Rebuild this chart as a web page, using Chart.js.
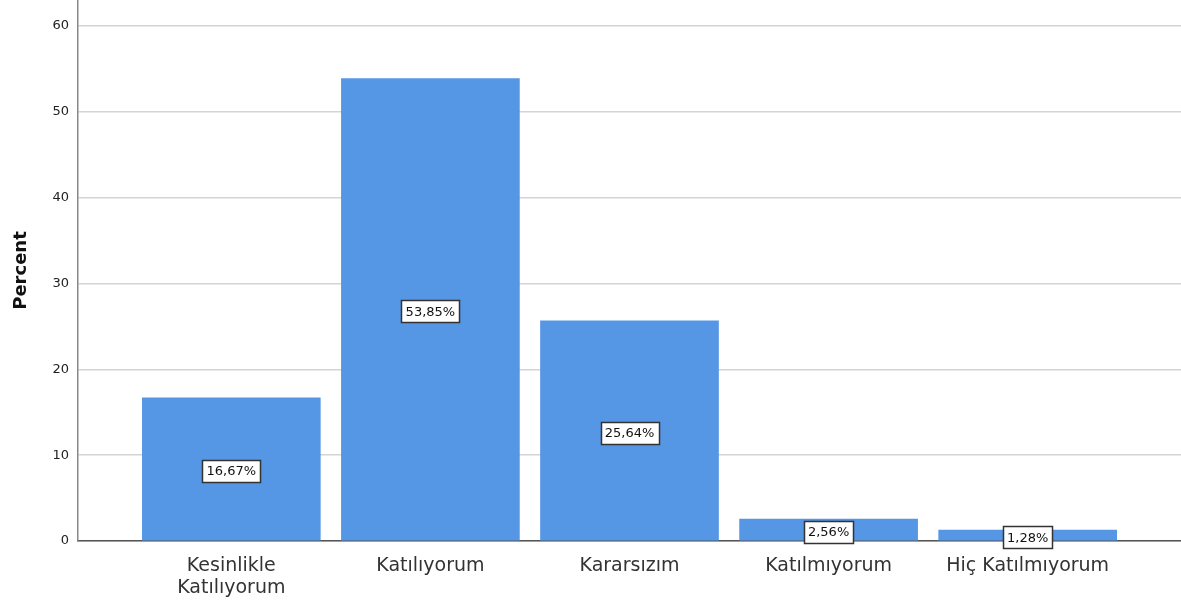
<!DOCTYPE html>
<html>
<head>
<meta charset="utf-8">
<script src="https://cdn.jsdelivr.net/npm/chart.js@4"></script>
<style>
  html, body { margin: 0; padding: 0; background: #fff; }
  #wrap { width: 1181px; height: 602px; }
</style>
</head>
<body>
<div id="wrap"><canvas id="myChart" width="1181" height="602"></canvas></div>
<script>
var categories = [['Kesinlikle', 'Katılıyorum'], 'Katılıyorum', 'Kararsızım', 'Katılmıyorum', 'Hiç Katılmıyorum'];
var percents = [16.67, 53.85, 25.64, 2.56, 1.28];
var yTicks = [0, 10, 20, 30, 40, 50, 60];

var fontFam = '"DejaVu Sans", Arial, sans-serif';

// white boxed value labels in the middle of each bar
var boxLabels = {
    id: 'boxLabels',
    afterDatasetsDraw: function (chart) {
        var ctx = chart.ctx;
        var meta = chart.getDatasetMeta(0);
        ctx.save();
        ctx.font = '13px ' + fontFam;
        ctx.textAlign = 'center';
        ctx.textBaseline = 'middle';
        meta.data.forEach(function (bar, i) {
            var txt = percents[i].toFixed(2).replace('.', ',') + '%';
            var cy = (bar.y + bar.base) / 2 + 2;
            var w = Math.round(ctx.measureText(txt).width + 8);
            var h = 22;
            var x0 = Math.round(bar.x - w / 2) + 0.5;
            var y0 = Math.round(cy - h / 2) + 0.5;
            ctx.fillStyle = '#ffffff';
            ctx.fillRect(x0, y0, w, h);
            ctx.strokeStyle = '#333333';
            ctx.lineWidth = 1.5;
            ctx.strokeRect(x0, y0, w, h);
            ctx.fillStyle = '#111111';
            ctx.fillText(txt, bar.x, cy + 1);
        });
        ctx.restore();
    }
};

var chart1 = document.getElementById('myChart');
var myChart = new Chart(chart1, {
    type: 'bar',
    data: {
        datasets: [{
            label: 'Percent',
            data: percents.map(function (v, i) { return { x: i, y: v }; }),
            backgroundColor: '#5596e5',
            borderWidth: 0,
            barThickness: 178
        }]
    },
    plugins: [boxLabels],
    options: {
        responsive: false,
        animation: false,
        layout: { padding: 0 },
        plugins: {
            legend: { display: false },
            tooltip: { enabled: false }
        },
        scales: {
            x: {
                type: 'linear',
                offset: false,
                min: -0.77,
                max: 4.77,
                afterBuildTicks: function (scale) {
                    scale.ticks = categories.map(function (c, i) { return { value: i }; });
                },
                afterFit: function (scale) {
                    scale.height = 61;
                    scale.paddingLeft = 0;
                    scale.paddingRight = 0;
                },
                grid: { display: false, drawTicks: false },
                border: { color: '#555555', width: 1.5 },
                ticks: {
                    padding: 14,
                    maxRotation: 0,
                    autoSkip: false,
                    color: '#333333',
                    font: { family: fontFam, size: 19, lineHeight: 1.15 },
                    callback: function (v) { return categories[v]; }
                }
            },
            y: {
                min: 0,
                max: 63,
                afterBuildTicks: function (scale) {
                    scale.ticks = yTicks.map(function (v) { return { value: v }; });
                },
                afterFit: function (scale) {
                    scale.width = 78;
                    scale.paddingTop = 0;
                    scale.paddingBottom = 0;
                },
                grid: { color: '#d4d4d4', lineWidth: 1.5, drawTicks: false },
                border: { color: '#888888', width: 1.5 },
                ticks: {
                    padding: 9,
                    color: '#222222',
                    font: { family: fontFam, size: 13 }
                },
                title: {
                    display: true,
                    text: 'Percent',
                    color: '#111111',
                    padding: { top: 11, bottom: 0 },
                    font: { family: fontFam, size: 18, weight: 'bold' }
                }
            }
        }
    }
});
</script>
</body>
</html>
